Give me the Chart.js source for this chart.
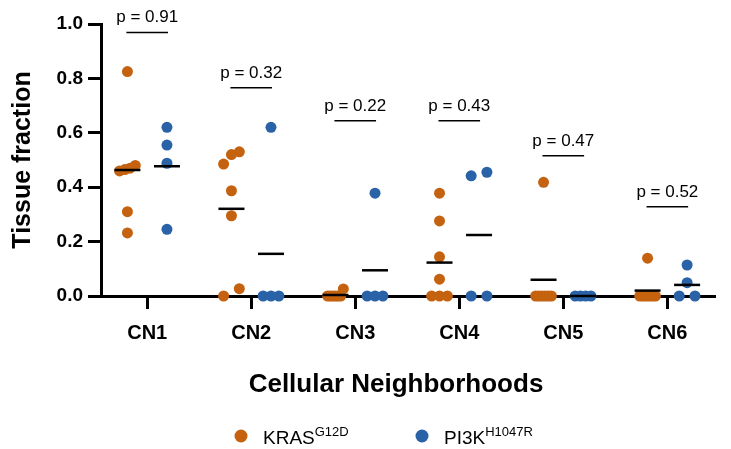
<!DOCTYPE html>
<html>
<head>
<meta charset="utf-8">
<script src="https://cdn.jsdelivr.net/npm/chart.js@4"></script>
<style>
  html, body { margin: 0; padding: 0; background: #fff; }
  #wrap { width: 731px; height: 449px; }
</style>
</head>
<body>
<div id="wrap"><canvas id="chart" width="731" height="449"></canvas></div>
<script>
const categories = ['CN1', 'CN2', 'CN3', 'CN4', 'CN5', 'CN6']
const krasValues = [
	[0.825, 0.48, 0.47, 0.465, 0.46, 0.31, 0.232],
	[0.53, 0.52, 0.485, 0.387, 0.295, 0.027, 0],
	[0.026, 0, 0, 0, 0, 0, 0],
	[0.378, 0.276, 0.144, 0.062, 0, 0, 0],
	[0.418, 0, 0, 0, 0, 0, 0],
	[0.139, 0, 0, 0, 0, 0, 0],
]
const pi3kValues = [
	[0.62, 0.555, 0.488, 0.245],
	[0.62, 0, 0, 0],
	[0.378, 0, 0, 0],
	[0.455, 0.442, 0, 0],
	[0, 0, 0, 0],
	[0.114, 0.049, 0, 0],
]
const pLabels = ['p = 0.91', 'p = 0.32', 'p = 0.22', 'p = 0.43', 'p = 0.47', 'p = 0.52']
const pBarLevels = [0.969, 0.766, 0.644, 0.644, 0.516, 0.328]
const seriesNames = ['KRAS', 'PI3K']
const seriesSup = ['G12D', 'H1047R']

const FONT = "'Liberation Sans', Arial, sans-serif"
const KRAS_COLOR = '#C4620F'
const PI3K_COLOR = '#2A62A7'
const PX_PER_X = 105.8
const PX_PER_Y = 272
const DOT_R = 5.5
const GROUP_OFFSET = 0.19

// spread dots that would overlap, like a scatter dot plot
const swarm = (values, center) => {
	const sorted = values.slice().sort((a, b) => a - b)
	const bins = []
	sorted.forEach(v => {
		const last = bins[bins.length - 1]
		if (last && (v - last[last.length - 1]) * PX_PER_Y < DOT_R * 2) last.push(v)
		else bins.push([v])
	})
	const points = []
	bins.forEach(bin => {
		bin.forEach((v, i) => {
			const off = bin.length > 1 ? -8 + (16 * i) / (bin.length - 1) : 0
			points.push({ x: center + off / PX_PER_X, y: v })
		})
	})
	return points
}
const mean = arr => arr.reduce((s, v) => s + v, 0) / arr.length

const annotations = {
	id: 'annotations',
	afterDatasetsDraw(chart) {
		const { ctx, scales } = chart
		const x = scales.x
		const y = scales.y
		ctx.save()
		ctx.strokeStyle = '#000'
		ctx.fillStyle = '#000'
		ctx.lineWidth = 1.5
		pLabels.forEach((label, i) => {
			const x1 = x.getPixelForValue(i + 1 - 0.2)
			const x2 = x.getPixelForValue(i + 1 + 0.2)
			const yy = y.getPixelForValue(pBarLevels[i])
			ctx.beginPath()
			ctx.moveTo(x1, yy)
			ctx.lineTo(x2, yy)
			ctx.stroke()
			ctx.font = `17px ${FONT}`
			ctx.textAlign = 'center'
			ctx.textBaseline = 'alphabetic'
			ctx.fillText(label, (x1 + x2) / 2, yy - 10)
		})

		// x axis title
		ctx.font = `bold 26px ${FONT}`
		ctx.textAlign = 'center'
		ctx.textBaseline = 'middle'
		ctx.fillText('Cellular Neighborhoods', 396, 385)

		// legend
		const colors = [KRAS_COLOR, PI3K_COLOR]
		const starts = [241, 422]
		seriesNames.forEach((name, i) => {
			ctx.fillStyle = colors[i]
			ctx.beginPath()
			ctx.arc(starts[i], 436, 6.5, 0, Math.PI * 2)
			ctx.fill()
			ctx.fillStyle = '#000'
			ctx.textAlign = 'left'
			ctx.textBaseline = 'alphabetic'
			ctx.font = `19px ${FONT}`
			const tx = starts[i] + 22
			ctx.fillText(name, tx, 444)
			const w = ctx.measureText(name).width
			ctx.font = `13px ${FONT}`
			ctx.fillText(seriesSup[i], tx + w, 436)
		})
		ctx.restore()
	},
}

const dotSet = (label, values, sign, color) => ({
	label,
	data: categories.flatMap((c, i) => swarm(values[i], i + 1 + sign * GROUP_OFFSET)),
	backgroundColor: color,
	borderWidth: 0,
	pointRadius: DOT_R,
	pointHoverRadius: DOT_R,
	clip: false,
	order: 2,
})

const meanSet = (label, values, sign) => ({
	label,
	data: categories.map((c, i) => ({ x: i + 1 + sign * GROUP_OFFSET, y: mean(values[i]) })),
	pointStyle: 'line',
	pointRadius: 13,
	pointHoverRadius: 13,
	borderColor: '#000',
	borderWidth: 2.5,
	clip: false,
	order: 1,
})

new Chart(document.getElementById('chart'), {
	type: 'scatter',
	data: {
		datasets: [
			meanSet('KRAS mean', krasValues, -1),
			meanSet('PI3K mean', pi3kValues, 1),
			dotSet('KRAS', krasValues, -1, KRAS_COLOR),
			dotSet('PI3K', pi3kValues, 1, PI3K_COLOR),
		],
	},
	options: {
		responsive: false,
		animation: false,
		devicePixelRatio: 1,
		layout: { padding: { top: 24, right: 5, left: 0, bottom: 0 } },
		plugins: {
			legend: { display: false },
			tooltip: { enabled: false },
		},
		scales: {
			x: {
				type: 'linear',
				min: 0.556,
				max: 6.463,
				afterBuildTicks: s => {
					s.ticks = categories.map((c, i) => ({ value: i + 1 }))
				},
				afterFit: s => {
					s.height = 153
				},
				grid: { drawOnChartArea: false, tickLength: 13, tickWidth: 3, tickColor: '#000' },
				border: { width: 3, color: '#000' },
				ticks: {
					color: '#000',
					font: { family: FONT, size: 20, weight: 'bold' },
					padding: 12,
					maxRotation: 0,
					autoSkip: false,
					callback: v => categories[v - 1],
				},
			},
			y: {
				min: 0,
				max: 1,
				afterFit: s => {
					s.width = 101
				},
				grid: { drawOnChartArea: false, tickLength: 13, tickWidth: 3, tickColor: '#000' },
				border: { width: 3, color: '#000' },
				ticks: {
					stepSize: 0.2,
					color: '#000',
					font: { family: FONT, size: 19, weight: 'bold' },
					padding: 5,
					callback: v => v.toFixed(1),
				},
				title: {
					display: true,
					text: 'Tissue fraction',
					color: '#000',
					font: { family: FONT, size: 25, weight: 'bold', lineHeight: 1 },
					padding: { top: 11, bottom: 0 },
				},
			},
		},
	},
	plugins: [annotations],
})
</script>
</body>
</html>
